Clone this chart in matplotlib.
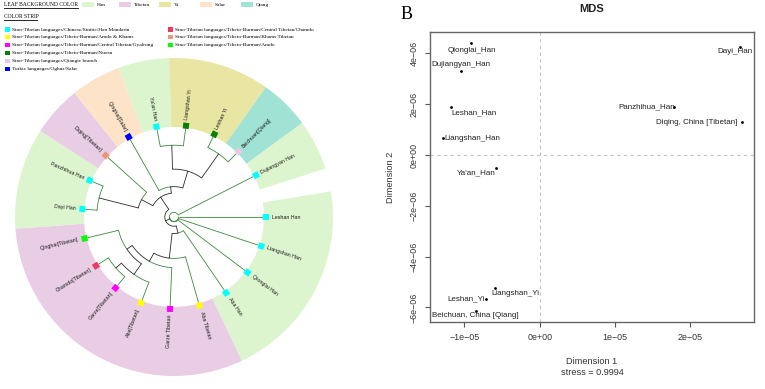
import numpy as np
import matplotlib.pyplot as plt
from matplotlib.patches import Wedge, Polygon, Rectangle

# ---------------- CONFIG ----------------
W, H = 765, 389
CX, CY = 174, 389 - 217          # tree centre (pixels, y up)
R_LEAF = 92                      # radius of leaf squares
R_IN, R_OUT = 90, 159            # background ring
STEP = 18.5                      # degrees between leaves

# ---------------- TREE DATA ----------------
leaf_names = ["Leshan Han", "Liangshan Han", "Qionglai Han", "Aba Han", "Aba Tibetan",
              "Garze Tibetan", "Aba[Tibetan]", "Garze[Tibetan]", "Chamdo[Tibetan]",
              "Qinghai[Tibetan]", "Dayi Han", "Panzhihua Han", "Diqing[Tibetan]",
              "Qinghai[Salar]", "Ya'an Han", "Liangshan Yi", "Leshan Yi",
              "Beichuan[Qiang]", "Dujiangyan Han"]
leaf_group = ["Han", "Han", "Han", "Han", "Tibetan", "Tibetan", "Tibetan", "Tibetan",
              "Tibetan", "Tibetan", "Han", "Han", "Tibetan", "Salar", "Han", "Yi", "Yi",
              "Qiang", "Han"]
leaf_strip = [0, 0, 0, 0, 1, 2, 1, 2, 6, 8, 0, 0, 7, 5, 0, 3, 3, 4, 0]

# internal nodes: (depth, [children]); ints are leaf indices, depth 1.0 = leaves
tree = (0.05, [0, 1, 2,
               (0.10, [
                   (0.18, [3,
                           (0.45, [4,
                                   (0.55, [5,
                                           (0.62, [(0.76, [6, (0.84, [7, 8])]), 9])])])]),
                   (0.26, [(0.40, [(0.84, [10, 11]), 12]),
                           (0.33, [13,
                                   (0.52, [(0.78, [14, 15]), (0.84, [16, 17])])])])]),
               18])

bg_groups = ["Han", "Tibetan", "Yi", "Salar", "Qiang"]
bg_colors = ["#ddf5cf", "#e9cde4", "#e9e6a3", "#fde4c9", "#a0e2d4"]

strip_labels = ["Sino-Tibetan languages/Chinese/Sinitic/Han Mandarin",
                "Sino-Tibetan languages/Tibeto-Burman/Amdo & Khams",
                "Sino-Tibetan languages/Tibeto-Burman/Central Tibetan/Gyalrong",
                "Sino-Tibetan languages/Tibeto-Burman/Nuosu",
                "Sino-Tibetan languages/Qiangic branch",
                "Turkic languages/Oghuz/Salar",
                "Sino-Tibetan languages/Tibeto-Burman/Central Tibetan/Chamdo",
                "Sino-Tibetan languages/Tibeto-Burman/Khams Tibetan",
                "Sino-Tibetan languages/Tibeto-Burman/Amdo"]
strip_colors = ["#00ffff", "#ffff00", "#ff00ff", "#0a7d0a", "#efc6e6", "#0000ff",
                "#ee3a62", "#e9967a", "#00ff00"]

# ---------------- MDS DATA ----------------
mds_labels = ["Qionglai_Han", "Dujiangyan_Han", "Leshan_Han", "Liangshan_Han", "Ya'an_Han",
              "Dayi_Han", "Panzhihua_Han", "Diqing, China [Tibetan]", "Liangshan_Yi",
              "Leshan_Yi", "Beichuan, China [Qiang]"]
mds_x = [-0.916e-05, -1.045e-05, -1.178e-05, -1.288e-05, -0.580e-05,
         2.660e-05, 1.788e-05, 2.687e-05, -0.590e-05, -0.713e-05, -0.842e-05]
mds_y = [4.40e-06, 3.32e-06, 1.90e-06, 0.66e-06, -0.52e-06,
         4.26e-06, 1.88e-06, 1.29e-06, -5.25e-06, -5.66e-06, -6.13e-06]
stress = 0.9994

# label placement (pixels offset, alignment)
label_off = [(1, -7, "center"), (0, 6, "center"), (0, -6, "left"), (2, 0, "left"),
             (0, -5, "right"), (-5, -5, "center"), (1, 0, "right"), (-5, 0, "right"),
             (-4, -5, "left"), (-1, 0, "right"), (-1, -5, "center")]

# ---------------- FIGURE ----------------
fig = plt.figure(figsize=(W / 100, H / 100), dpi=100)
ax = fig.add_axes([0, 0, 380 / W, 1])
ax.set_xlim(0, 380)
ax.set_ylim(0, H)
ax.axis("off")

leaf_ang = [-i * STEP for i in range(len(leaf_names))]

# background wedges
start = 0
for i in range(1, len(leaf_names) + 1):
    if i == len(leaf_names) or leaf_group[i] != leaf_group[start]:
        col = bg_colors[bg_groups.index(leaf_group[start])]
        ax.add_patch(Wedge((CX, CY), R_OUT, leaf_ang[i - 1] - STEP / 2,
                           leaf_ang[start] + STEP / 2, width=R_OUT - R_IN,
                           facecolor=col, edgecolor="none", zorder=1))
        start = i

GREEN = "#3b8a3b"
BLACK = "#2b2b2b"


def pol(r, a):
    t = np.radians(a)
    return CX + r * np.cos(t), CY + r * np.sin(t)


def radial(a, r0, r1, col):
    x0, y0 = pol(r0, a)
    x1, y1 = pol(r1, a)
    ax.plot([x0, x1], [y0, y1], color=col, lw=0.6, zorder=3, solid_capstyle="butt")


def arc(r, a0, a1, col):
    t = np.linspace(a0, a1, 40)
    xs, ys = pol(r, t)
    ax.plot(xs, ys, color=col, lw=0.6, zorder=3)


def draw(node, parent_r):
    if isinstance(node, int):
        a = leaf_ang[node]
        radial(a, parent_r, R_LEAF - 3, GREEN)
        return a, True
    depth, kids = node
    r = depth * R_LEAF
    res = [draw(k, r) for k in kids]
    a = (res[0][0] + res[-1][0]) / 2
    for ka, is_leaf in res:
        arc(r, a, ka, GREEN if is_leaf else BLACK)
    if parent_r is not None:
        radial(a, parent_r, r, BLACK)
    return a, False


draw(tree, None)

# leaf squares + labels
for i, name in enumerate(leaf_names):
    a = leaf_ang[i]
    t = np.radians(a)
    u = np.array([np.cos(t), np.sin(t)])
    v = np.array([-np.sin(t), np.cos(t)])
    c = np.array(pol(R_LEAF, a))
    s = 3.0
    pts = [c + s * u + s * v, c - s * u + s * v, c - s * u - s * v, c + s * u - s * v]
    ax.add_patch(Polygon(pts, closed=True, facecolor=strip_colors[leaf_strip[i]],
                         edgecolor="none", zorder=4))
    an = (a + 180) % 360 - 180
    x, y = pol(98, a)
    if -90 <= an <= 90:
        ax.text(x, y, name, rotation=an, ha="left", va="center", rotation_mode="anchor",
                fontsize=3.8, family="Liberation Sans", color="#1a1a1a", zorder=5)
    else:
        ax.text(x, y, name, rotation=an + 180, ha="right", va="center",
                rotation_mode="anchor", fontsize=3.8, family="Liberation Sans",
                color="#1a1a1a", zorder=5)

# legends (serif like iTOL export)
serif = "Liberation Serif"
ax.text(4, H - 4.5, "LEAF BACKGROUND COLOR", fontsize=4, family=serif, va="center")
ax.plot([4, 78], [H - 7.5, H - 7.5], color="black", lw=0.6)
bg_x = [82, 119, 159, 200, 241]
for gx, g, col in zip(bg_x, bg_groups, bg_colors):
    ax.add_patch(Rectangle((gx, H - 7), 12, 5, facecolor=col, edgecolor="none"))
    ax.text(gx + 15, H - 4.5, g, fontsize=3.9, family=serif, va="center")

ax.text(4, H - 16, "COLOR STRIP", fontsize=4, family=serif, va="center")
ax.plot([4, 37], [H - 19.5, H - 19.5], color="black", lw=0.6)
col_x = [5] * 6 + [168] * 3
col_y = [29.5, 37, 45, 53, 61, 69, 29.5, 37, 45]
for k, (lab, col) in enumerate(zip(strip_labels, strip_colors)):
    ax.add_patch(Rectangle((col_x[k], H - col_y[k] - 2.2), 4.5, 4.5,
                           facecolor=col, edgecolor="none"))
    ax.text(col_x[k] + 7, H - col_y[k], lab, fontsize=3.9, family=serif, va="center")

# ---------------- MDS PANEL ----------------
sans = "Liberation Sans"
bx = fig.add_axes([430 / W, (H - 322) / H, (754 - 430) / W, (322 - 32) / H])
bx.set_xlim(-1.457e-05, 2.846e-05)
bx.set_ylim(-6.575e-06, 4.84e-06)
bx.axhline(0, color="#c4c4c4", lw=0.8, ls=(0, (3, 3)), zorder=1)
bx.axvline(0, color="#c4c4c4", lw=0.8, ls=(0, (3, 3)), zorder=1)
bx.scatter(mds_x, mds_y, s=4, color="black", zorder=3, linewidths=0)
for lab, x, y, (dx, dy, ha) in zip(mds_labels, mds_x, mds_y, label_off):
    bx.annotate(lab, (x, y), xytext=(dx, dy), textcoords="offset pixels", ha=ha,
                va="center", fontsize=5.8, family=sans, color="#222222", zorder=4)

xt = [-1e-05, 0, 1e-05, 2e-05]
yt = [-6e-06, -4e-06, -2e-06, 0, 2e-06, 4e-06]
bx.set_xticks(xt)
bx.set_xticklabels(["\u22121e\u221205", "0e+00", "1e\u221205", "2e\u221205"])
bx.set_yticks(yt)
bx.set_yticklabels(["\u22126e\u221206", "\u22124e\u221206", "\u22122e\u221206", "0e+00",
                    "2e\u221206", "4e\u221206"], rotation=90, va="center")
bx.tick_params(direction="out", length=3.6, width=0.8, colors="#555555",
               labelcolor="#333333", labelsize=6.4, pad=4.5)
for lbl in bx.get_xticklabels() + bx.get_yticklabels():
    lbl.set_family(sans)
for sp in bx.spines.values():
    sp.set_color("#666666")
    sp.set_linewidth(1.0)

bx.text(0.5, -0.137, "Dimension 1", transform=bx.transAxes, ha="center", va="center",
        fontsize=6.6, family=sans, color="#333333")
bx.text(0.5, -0.175, "stress = %.4f" % stress, transform=bx.transAxes, ha="center",
        va="center", fontsize=6.6, family=sans, color="#333333")
bx.text(-0.123, 0.5, "Dimension 2", transform=bx.transAxes, ha="center", va="center",
        rotation=90, fontsize=6.6, family=sans, color="#333333")
fig.text(592 / W, 1 - 9 / H, "MDS", ha="center", va="center", fontsize=8,
         fontweight="bold", family=sans, color="#222222")
fig.text(401 / W, 1 - 14.5 / H, "B", ha="left", va="center", fontsize=13, family=serif)

fig.savefig("out.png", dpi=100)
